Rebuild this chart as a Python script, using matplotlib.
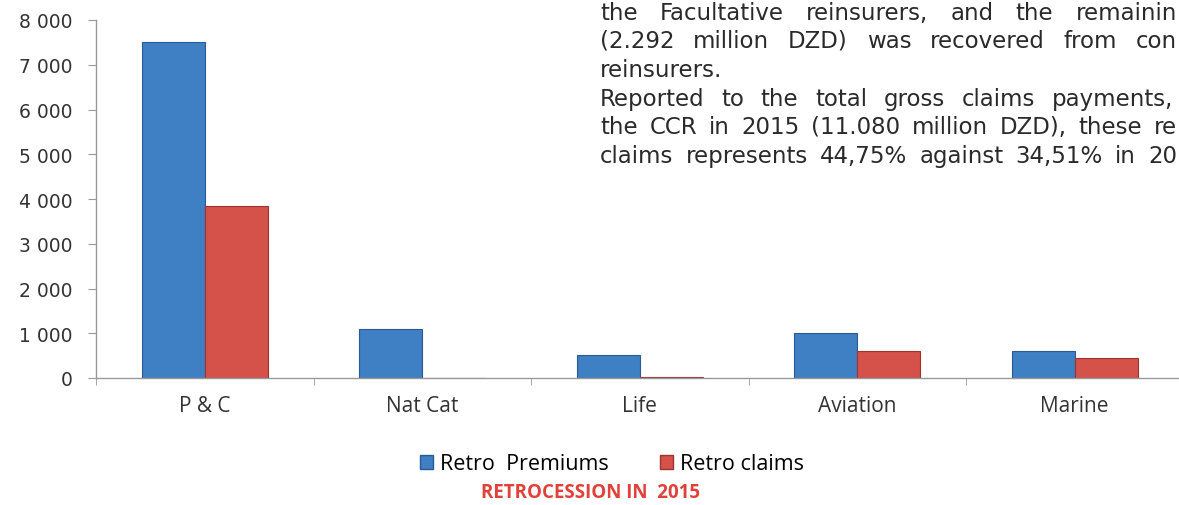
import matplotlib
matplotlib.use("Agg")
import matplotlib.pyplot as plt
import numpy as np
from matplotlib.patches import Patch

categories = ["P & C", "Nat Cat", "Life", "Aviation", "Marine"]
retro_premiums = [7500, 1090, 515, 1000, 600]
retro_claims = [3850, 0, 25, 600, 450]
yticks = [0, 1000, 2000, 3000, 4000, 5000, 6000, 7000, 8000]
ytick_labels = ["0", "1 000", "2 000", "3 000", "4 000", "5 000", "6 000", "7 000", "8 000"]

para_lines = [
    "the Facultative reinsurers, and the remainin",
    "(2.292 million DZD) was recovered from con",
    "reinsurers.",
    "Reported to the total gross claims payments,",
    "the CCR in 2015 (11.080 million DZD), these re",
    "claims represents  44,75% against  34,51% in 20",
]

W, H = 1179, 506
fig = plt.figure(figsize=(W / 100, H / 100), dpi=100)
# plot area: left spine at x=96, zero line at y=379, 8000 at y=21
ax = fig.add_axes([96 / W, (H - 379) / H, (1183.5 - 96) / W, 358 / H])

blue = "#3f7fc4"
red = "#d4524a"
x = np.arange(len(categories))
bw = 0.29
ax.bar(x - bw / 2, retro_premiums, bw, color=blue, edgecolor="#2a5a94", linewidth=0.8)
ax.bar(x + bw / 2, retro_claims, bw, color=red, edgecolor="#9a3530", linewidth=0.8)

ax.set_xlim(-0.5, len(categories) - 0.5)
ax.set_ylim(0, 8000)
ax.set_yticks(yticks)
ax.set_yticklabels(ytick_labels, fontsize=13.5, color="#333333", family="DejaVu Sans")
ax.set_xticks(x)
ax.set_xticklabels(categories, fontsize=15, color="#333333", family="Open Sans")
ax.set_xticks(np.arange(len(categories) + 1) - 0.5, minor=True)
ax.tick_params(axis="x", which="major", length=0, pad=12)
ax.tick_params(axis="x", which="minor", length=5, color="#999999", direction="out")
ax.tick_params(axis="y", length=6, color="#999999", pad=11)
for s in ["top", "right"]:
    ax.spines[s].set_visible(False)
for s in ["left", "bottom"]:
    ax.spines[s].set_color("#999999")
    ax.spines[s].set_linewidth(1)

handles = [Patch(facecolor=blue, edgecolor="#2a5a94"), Patch(facecolor=red, edgecolor="#9a3530")]
fig.legend(handles, ["Retro  Premiums", "Retro claims"], loc="center",
           bbox_to_anchor=(612 / W, (H - 465) / H), ncol=2, frameon=False,
           prop={"family": "Open Sans", "size": 15.5}, handlelength=0.6, handleheight=0.6,
           handletextpad=0.3, columnspacing=2.4)
fig.text(591 / W, (H - 493) / H, "RETROCESSION IN  2015", ha="center", va="center",
         fontsize=13.5, fontweight="bold", color="#e0413a", family="Open Sans")

# paragraph text at top right, justified lines
fig.canvas.draw()
renderer = fig.canvas.get_renderer()
line_base = [20, 48, 77, 106, 134, 163]
line_end = [1177, 1177, None, 1173, 1177, 1177]
x0 = 600
for txt, yy, xe in zip(para_lines, line_base, line_end):
    ypos = (H - yy) / H
    kw = dict(fontsize=16.5, color="#2a2a2a", family="DejaVu Sans", va="baseline", ha="left")
    if xe is None:
        fig.text(x0 / W, ypos, txt, **kw)
        continue
    words = [w for w in txt.split(" ") if w]
    objs = [fig.text(0, ypos, w, **kw) for w in words]
    widths = [o.get_window_extent(renderer).width for o in objs]
    gap = max((xe - x0 - sum(widths)) / (len(words) - 1), 5)
    cur = x0
    for o, wd in zip(objs, widths):
        o.set_x(cur / W)
        cur += wd + gap

fig.savefig("out.png", dpi=100)
